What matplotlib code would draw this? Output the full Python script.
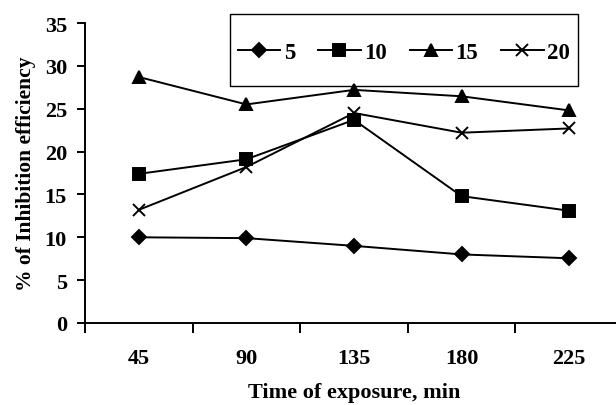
import numpy as np
import matplotlib.pyplot as plt
from matplotlib.patches import Rectangle

# exposure time categories (min) and inhibition efficiency (%) per concentration
times = ['45', '90', '135', '180', '225']
conc_labels = ['5', '10', '15', '20']
eff_5 = [10.0, 9.9, 9.0, 8.0, 7.55]
eff_10 = [17.4, 19.1, 23.7, 14.8, 13.1]
eff_15 = [28.7, 25.5, 27.2, 26.45, 24.8]
eff_20 = [13.2, 18.2, 24.5, 22.2, 22.7]

plt.rcParams['font.family'] = ['Liberation Serif', 'DejaVu Serif']
plt.rcParams['font.weight'] = 'bold'

W, H = 616, 406
fig = plt.figure(figsize=(W / 100, H / 100), dpi=100)
ax = fig.add_axes([85/W, 82/H, 538/W, 300/H])

x = np.arange(len(times))
styles = [('D', 7.5, eff_5), ('s', 8, eff_10), ('^', 8.5, eff_15), ('x', 8, eff_20)]
for lab, (mk, ms, vals) in zip(conc_labels, styles):
    ax.plot(x, vals, color='black', lw=1.4, marker=mk, ms=ms,
            mec='black', mfc='black', mew=1.4, label=lab)

ax.set_xlim(-0.5, 4.5)
ax.set_ylim(0, 35)
ax.set_yticks(np.arange(0, 36, 5))
ax.set_xticks(x)
ax.set_xticklabels(times)
ax.set_xticks(np.arange(-0.5, 5, 1), minor=True)
ax.tick_params(axis='x', which='major', length=0, pad=18, labelsize=16)
ax.tick_params(axis='x', which='minor', length=7, width=1.4, direction='out')
ax.tick_params(axis='y', length=6, width=1.4, direction='out', labelsize=16, pad=7)
for lbl in ax.get_xticklabels() + ax.get_yticklabels():
    lbl.set_fontweight('bold')

ax.spines['top'].set_visible(False)
ax.spines['right'].set_visible(False)
ax.spines['left'].set_linewidth(1.4)
ax.spines['bottom'].set_linewidth(1.4)

ax.set_xlabel('Time of exposure, min', fontsize=16, fontweight='bold', labelpad=10)
ax.set_ylabel('% of Inhibition efficiency', fontsize=15.5, fontweight='bold', labelpad=6)

# legend box drawn separately so its padding can be set freely
fig.patches.append(Rectangle((230/W, 1 - 87/H), 348/W, 72/H, transform=fig.transFigure,
                             fill=False, edgecolor='black', lw=1.0))
leg = ax.legend(ncol=4, loc='center', bbox_to_anchor=(404/W, 1 - 53/H),
                bbox_transform=fig.transFigure, frameon=False, fontsize=16.5,
                handlelength=1.85, handletextpad=0.15, columnspacing=1.0,
                borderpad=0.0)
for t in leg.get_texts():
    t.set_fontweight('bold')

fig.savefig('out.png', dpi=100)
